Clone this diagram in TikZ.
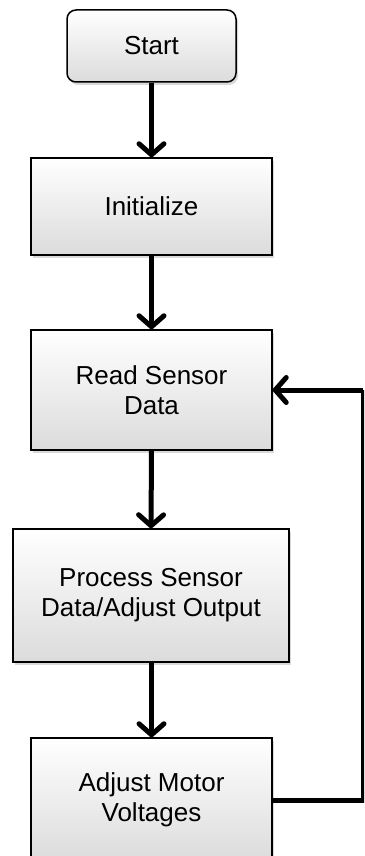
\documentclass[tikz,border=0pt]{standalone}
\usepackage{fontspec}
\setmainfont{Liberation Sans}
\usetikzlibrary{arrows.meta,shadows}
\begin{document}
\begin{tikzpicture}[x=1pt,y=-1pt,
  flowbox/.style={draw=black, line width=1.5pt, inner sep=0pt, align=center,
    top color=white, bottom color=black!14,
    font=\fontsize{26}{30}\selectfont,
    drop shadow={opacity=0.25, shadow xshift=2pt, shadow yshift=-3pt, fill=black!60}},
  flow/.style={line width=5pt, -{Straight Barb[length=11pt,width=25pt,line cap=round,line join=round]}},
  loopline/.style={line width=5pt}]
\useasboundingbox (0,0) rectangle (364,856);
\clip (0,0) rectangle (364,856);
\node[flowbox, rounded corners=9pt, minimum width=169pt, minimum height=72pt] (start) at (151.5,46) {Start};
\node[flowbox, minimum width=241pt, minimum height=97pt] (init) at (151.5,206.5) {Initialize};
\node[flowbox, minimum width=241pt, minimum height=120pt] (read) at (151.5,390) {Read Sensor\\Data};
\node[flowbox, minimum width=276pt, minimum height=133pt] (proc) at (151,595.5) {Process Sensor\\Data/Adjust Output};
\node[flowbox, minimum width=241pt, minimum height=124pt] (adj) at (151.5,800) {Adjust Motor\\Voltages};
\coordinate (c1) at (363,800);
\coordinate (c2) at (363,390);
\draw[flow] (start.south) -- (init.north);
\draw[flow] (init.south) -- (read.north);
\draw[flow] (read.south) -- (proc.north);
\draw[flow] (proc.south -| adj.north) -- (adj.north);
\draw[loopline] (adj.east) -- (c1) -- (c2);
\draw[flow] (c2) -- (read.east);
\end{tikzpicture}
\end{document}
